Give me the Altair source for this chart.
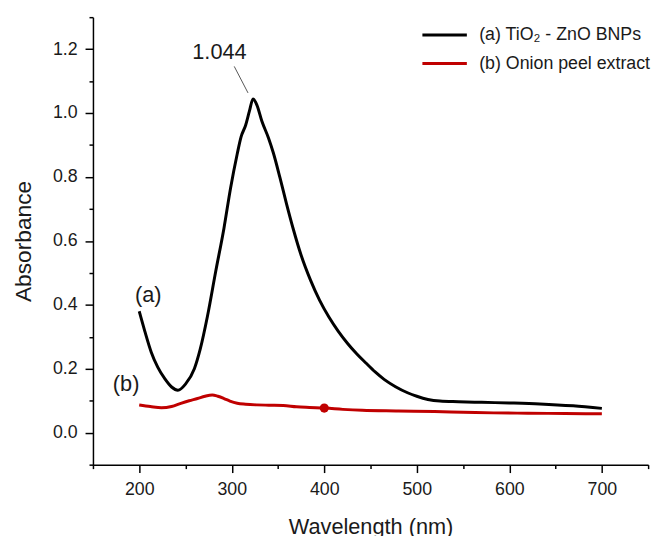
import altair as alt
import pandas as pd

FONT = "Liberation Sans"
TXT = "#1a1a1a"

# ---- data ----
wl_a = [200, 206, 213, 220, 227.6, 235, 241.8, 250, 259.6, 266, 273.8, 282.7,
        291.6, 298.7, 305.9, 310, 315, 319, 323, 327.2, 332.5, 339.7, 345,
        352.1, 359.2, 366.4, 375, 385, 395, 405, 415, 425, 435, 445, 455, 465,
        477, 490, 500, 512, 525, 545, 570, 600, 633, 669, 700]
abs_a = [0.380, 0.318, 0.252, 0.205, 0.169, 0.143, 0.133, 0.152, 0.200, 0.262,
         0.365, 0.505, 0.640, 0.765, 0.872, 0.925, 0.962, 1.005, 1.044, 1.025,
         0.975, 0.922, 0.875, 0.798, 0.716, 0.638, 0.555, 0.478, 0.414, 0.362,
         0.318, 0.280, 0.247, 0.218, 0.190, 0.166, 0.144, 0.125, 0.114, 0.104,
         0.099, 0.097, 0.095, 0.093, 0.090, 0.084, 0.076]

wl_b = [200, 212, 224, 235, 245, 254, 263, 271, 279, 285, 291.6, 298, 305.9,
        315, 327, 340, 355.7, 370, 384, 401, 420, 441, 480, 519, 550, 583, 620,
        660, 700]
abs_b = [0.087, 0.082, 0.078, 0.082, 0.092, 0.100, 0.107, 0.114, 0.118, 0.114,
         0.107, 0.099, 0.092, 0.089, 0.087, 0.086, 0.085, 0.081, 0.079, 0.077,
         0.073, 0.070, 0.068, 0.066, 0.064, 0.062, 0.061, 0.060, 0.059]

series_labels = ["(a) TiO\u2082 - ZnO BNPs", "(b) Onion peel extract"]
series_colors = ["#000000", "#c00000"]

marker_wl = [400]
marker_abs = [0.077]

peak_text = ["1.044"]
peak_text_wl = [286.7]
peak_text_abs = [1.19]
leader_wl = [302.7]
leader_abs = [1.146]
leader_wl2 = [317.6]
leader_abs2 = [1.063]

curve_tags = ["(a)", "(b)"]
curve_tag_wl = [209.8, 185.8]
curve_tag_abs = [0.432, 0.151]

x_major = [200, 300, 400, 500, 600, 700]
x_minor = [150, 250, 350, 450, 550, 650, 750]
y_major = [0.0, 0.2, 0.4, 0.6, 0.8, 1.0, 1.2]
y_minor = [-0.1, 0.1, 0.3, 0.5, 0.7, 0.9, 1.1, 1.3]

# ---- tables ----
df_lines = pd.concat([
    pd.DataFrame({"wl": wl_a, "abs": abs_a, "series": series_labels[0]}),
    pd.DataFrame({"wl": wl_b, "abs": abs_b, "series": series_labels[1]}),
])
df_marker = pd.DataFrame({"wl": marker_wl, "abs": marker_abs})
df_peak = pd.DataFrame({"wl": peak_text_wl, "abs": peak_text_abs, "t": peak_text})
df_leader = pd.DataFrame({"wl": leader_wl, "abs": leader_abs,
                          "wl2": leader_wl2, "abs2": leader_abs2})
df_tags = pd.DataFrame({"wl": curve_tag_wl, "abs": curve_tag_abs, "t": curve_tags})

xs = alt.Scale(domain=[150, 750], nice=False, zero=False)
ys = alt.Scale(domain=[-0.1, 1.3], nice=False, zero=False)

x_main = alt.X("wl:Q", scale=xs, axis=alt.Axis(
    values=x_major, format="d", title="Wavelength (nm)", orient="bottom",
    tickSize=8, labelPadding=8, titlePadding=19))
y_main = alt.Y("abs:Q", scale=ys, axis=alt.Axis(
    values=y_major, format=".1f", title="Absorbance", orient="left",
    tickSize=8, labelPadding=8, titlePadding=17, titleFontSize=23))

lines = alt.Chart(df_lines).mark_line(strokeWidth=3, interpolate="monotone").encode(
    x=x_main, y=y_main,
    color=alt.Color("series:N",
                    scale=alt.Scale(domain=series_labels, range=series_colors),
                    legend=alt.Legend(title=None, orient="none", legendX=332,
                                      legendY=8, symbolType="stroke",
                                      symbolSize=2025, symbolStrokeWidth=3,
                                      clipHeight=20,
                                      labelFont=FONT, labelFontSize=18,
                                      labelColor=TXT, labelLimit=400,
                                      labelOffset=11, rowPadding=9)),
)

marker = alt.Chart(df_marker).mark_point(filled=True, size=85, color="#c00000",
                                          opacity=1).encode(
    x=alt.X("wl:Q", scale=xs, axis=alt.Axis(values=x_minor, orient="bottom",
                                            labels=False, domain=False,
                                            tickSize=4, title=None)),
    y=alt.Y("abs:Q", scale=ys, axis=alt.Axis(values=y_minor, orient="left",
                                             labels=False, domain=False,
                                             tickSize=4, title=None)),
)

xn = alt.X("wl:Q", scale=xs, axis=None)
yn = alt.Y("abs:Q", scale=ys, axis=None)

leader = alt.Chart(df_leader).mark_rule(color="#555555", strokeWidth=1).encode(
    x=xn, y=yn, x2="wl2:Q", y2="abs2:Q")

peak = alt.Chart(df_peak).mark_text(font=FONT, fontSize=22, color=TXT,
                                    align="center", baseline="middle").encode(
    x=xn, y=yn, text="t:N")

tags = alt.Chart(df_tags).mark_text(font=FONT, fontSize=22, color=TXT,
                                    align="center", baseline="middle").encode(
    x=xn, y=yn, text="t:N")

chart = alt.layer(lines, marker, leader, peak, tags).resolve_axis(
    x="independent", y="independent"
).properties(
    width=562, height=453,
    autosize=alt.AutoSizeParams(type="none"),
    padding={"left": 86, "top": 6, "right": 10, "bottom": 75},
).configure_view(stroke=None).configure_axis(
    grid=False, domainColor="#000000", domainWidth=1.5,
    tickColor="#000000", tickWidth=1.5,
    labelFont=FONT, labelFontSize=18, labelColor=TXT,
    titleFont=FONT, titleFontSize=22, titleColor=TXT, titleFontWeight="normal",
)

chart.save("out.html", embed_options={"renderer": "svg", "actions": False})
